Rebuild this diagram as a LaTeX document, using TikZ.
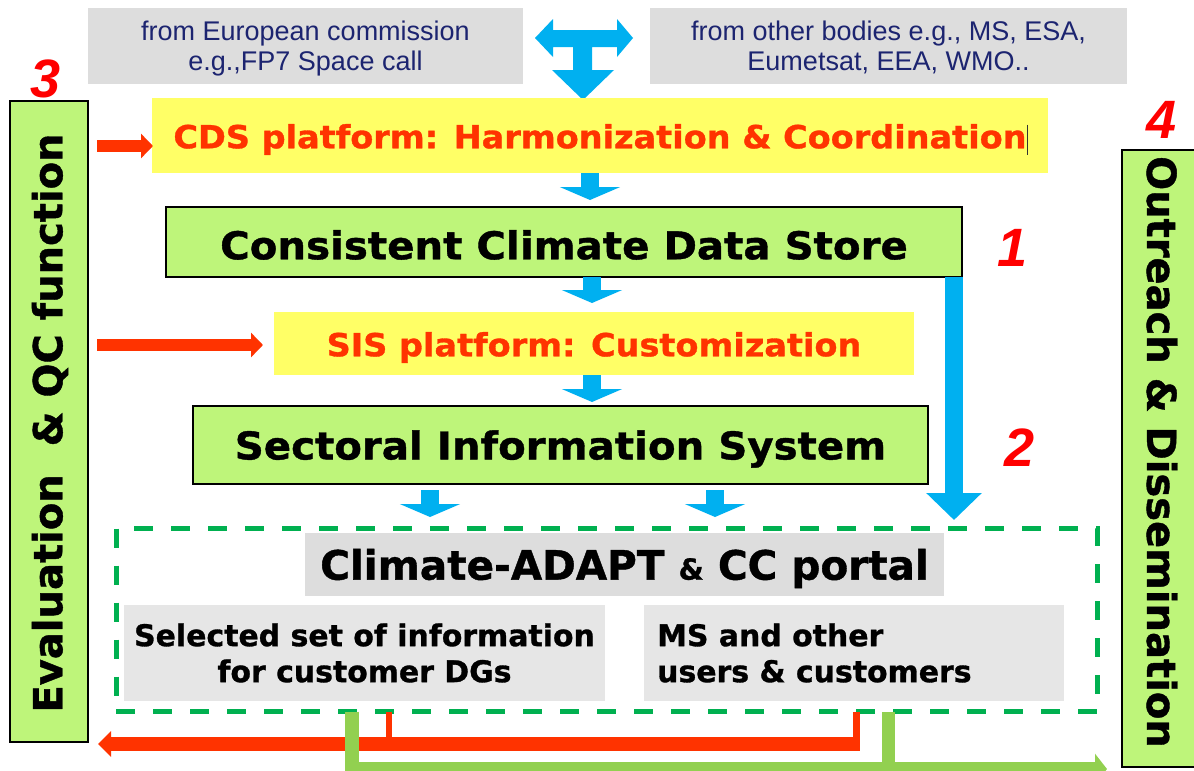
\documentclass[tikz,border=0pt]{standalone}
\usepackage{fontspec}
\usepackage{graphicx}
\usetikzlibrary{arrows.meta,calc}
\setmainfont{DejaVu Sans}
\newfontfamily\verd{DejaVu Sans}[BoldFeatures={FakeBold=1}]
\newfontfamily\arial{Liberation Sans}

\definecolor{bblue}{HTML}{00B0F0}
\definecolor{yel}{HTML}{FFFF66}
\definecolor{lgreen}{HTML}{BEF57A}
\definecolor{topgrey}{HTML}{DDDDDD}
\definecolor{ingrey}{HTML}{E6E6E6}
\definecolor{ored}{HTML}{FF3300}
\definecolor{nred}{HTML}{FF0000}
\definecolor{navy}{HTML}{1C2470}
\definecolor{dgreen}{HTML}{00B050}
\definecolor{bgreen}{HTML}{92D050}

% lower a label inside its node without changing the box that is centred
\newcommand\dropby[2]{\raisebox{-#1}[\height][\depth]{#2}}
% vertical scale and downward shift of a one-line label
\newcommand\tweak[3]{\dropby{#2}{\scalebox{1}[#1]{#3}}}

\begin{document}
\begin{tikzpicture}[x=1pt,y=-1pt,
  box/.style={rectangle, inner sep=0pt, outer sep=0pt, align=center},
  greybox/.style={box, fill=topgrey, text=navy, font=\arial\fontsize{27}{30}\selectfont},
  yelbox/.style={box, fill=yel, text=ored, font=\verd\bfseries\fontsize{33.5}{40}\selectfont},
  grnbox/.style={box, fill=lgreen, draw=black, line width=2pt, font=\verd\bfseries\fontsize{40.3}{48}\selectfont},
  bar/.style={box, fill=lgreen, draw=black, line width=2pt},
  bartext/.style={inner sep=0pt, font=\verd\bfseries\fontsize{40}{48}\selectfont},
  innergrey/.style={box, fill=ingrey, font=\verd\bfseries\fontsize{29.9}{36}\selectfont},
  num/.style={inner sep=0pt, text=nred, font=\arial\bfseries\itshape\fontsize{54}{60}\selectfont},
  blarr/.style={draw=bblue, line width=18pt, -{Triangle[width=60pt,length=13pt]}},
  bigarr/.style={draw=bblue, line width=18pt, -{Triangle[width=54pt,length=27pt]}},
  redarr/.style={draw=ored, line width=12pt, -{Triangle[width=24pt,length=12pt]}},
  portalbox/.style={box, draw=dgreen, line width=5pt, dash pattern=on 19pt off 18pt},
]
\useasboundingbox (0,0) rectangle (1194,771);
\fill[white] (0,0) rectangle (1194,771);
\clip (0,0) rectangle (1194,771);

% funding sources
\node[greybox, minimum width=435pt, minimum height=76pt] (eu) at (305.5,46)
  {\dropby{3.5pt}{\begin{tabular}{@{}c@{}}from European commission\\e.g.,FP7 Space call\end{tabular}}};
\node[greybox, minimum width=477pt, minimum height=76pt] (other) at (888.5,46)
  {\dropby{3.5pt}{\begin{tabular}{@{}c@{}}from other bodies e.g., MS, ESA,\\Eumetsat, EEA, WMO..\end{tabular}}};

% T-shaped arrow joining the sources and feeding the CDS platform
\fill[bblue] (535,38) -- (553,19) -- (553,30) -- (617,30) -- (617,19) -- (633,38)
  -- (617,57) -- (617,47) -- (592,47) -- (592,70) -- (614,70) -- (583,100)
  -- (552,70) -- (573,70) -- (573,47) -- (553,47) -- (553,57) -- cycle;

% main chain
\node[yelbox, minimum width=896pt, minimum height=75pt] (cds) at (600,135.5)
  {\tweak{0.95}{4pt}{CDS platform: Harmonization \& Coordination}};
\draw[line width=1pt, black!80] ($(cds.west)+(875,-11)$) -- ++(0,30);
\node[grnbox, minimum width=796pt, minimum height=70pt] (ccds) at (564,242)
  {\tweak{0.95}{3pt}{Consistent Climate Data Store}};
\node[yelbox, minimum width=640pt, minimum height=63pt] (sisp) at (594,343.5)
  {\tweak{0.95}{4pt}{SIS platform: Customization}};
\node[grnbox, minimum width=735pt, minimum height=78pt] (sis) at (560.5,445)
  {\tweak{0.95}{4pt}{Sectoral Information System}};

% portal
\node[portalbox, minimum width=981pt, minimum height=183.5pt] (portal) at (606.5,619.75) {};
\node[box, fill=topgrey, minimum width=639pt, minimum height=63pt,
  font=\verd\bfseries\fontsize{40.5}{48}\selectfont] (ptitle) at (624.5,564.5)
  {\dropby{4pt}{Climate-ADAPT {\fontsize{29}{30}\selectfont\&} CC portal}};
\node[innergrey, minimum width=481pt, minimum height=96pt] (dgs) at (364.5,653)
  {Selected set of information\\for customer DGs};
\node[innergrey, minimum width=420pt, minimum height=96pt] (users) at (854,653) {};
\node[anchor=west, align=left, inner sep=0pt, font=\verd\bfseries\fontsize{29.9}{36}\selectfont]
  (userstext) at ($(users.west)+(13,0)$) {MS and other\\users \& customers};

% side bars
\node[bar, minimum width=78pt, minimum height=641pt] (evalbar) at (49,421.5) {};
\node[bartext, rotate=90] (evaltext) at (50,423) {Evaluation\ \ \& QC function};
\node[bar, minimum width=90pt, minimum height=617pt] (outbar) at (1167,458.5) {};
\node[bartext, rotate=-90] (outtext) at (1162,452) {Outreach \& Dissemination};

% numbers
\node[num] (n1) at (1013,248) {1};
\node[num] (n2) at (1020,448) {2};
\node[num] (n3) at (46,79) {3};
\node[num] (n4) at (1162,120) {4};

% flow arrows
\draw[blarr, shorten >=7pt] ([xshift=-10pt]cds.south) -- ([xshift=26pt]ccds.north);
\draw[blarr, shorten >=9pt] ([xshift=28pt]ccds.south) -- ([xshift=-2pt]sisp.north);
\draw[blarr, shorten >=4pt] ([xshift=-2pt]sisp.south) -- ([xshift=31.5pt]sis.north);
\draw[blarr, shorten <=6pt, shorten >=11pt] ([xshift=-130.5pt]sis.south) -- ([xshift=-176.5pt]portal.north);
\draw[blarr, shorten <=6pt, shorten >=11pt] ([xshift=154.5pt]sis.south) -- ([xshift=108.5pt]portal.north);
\draw[bigarr, shorten >=8pt] ([xshift=390pt]ccds.south) -- ([xshift=347.5pt]portal.north);

% evaluation feedback arrows
\draw[redarr] ($(evalbar.east |- cds.west)+(9,10.5)$) -- ($(cds.west)+(1,10.5)$);
\draw[redarr] ($(evalbar.east |- sisp.west)+(9,1.5)$) -- ($(sisp.west)+(-11,1.5)$);

% outputs of the portal
\coordinate (redend) at (98,744);
\coordinate (greenend) at (1107,769);
\draw[draw=ored, line width=6pt] ($(portal.south west)+(273,0)$) -- ++(0,30);
\draw[draw=ored, line width=7pt] ($(portal.south west)+(740,0)$) -- ++(0,39.5);
\draw[draw=ored, line width=14pt, -{Triangle[width=25pt,length=13pt]}]
  ($(portal.south west)+(743.5,32.5)$) -- (redend);
\draw[draw=bgreen, line width=14pt] ($(portal.south west)+(236,0)$) -- ++(0,66);
\draw[draw=bgreen, line width=13pt] ($(portal.south west)+(772,0)$) -- ++(0,57.5);
\draw[draw=bgreen, line width=14pt, -{Triangle[width=30pt,length=12pt]}]
  ($(portal.south west)+(229,57.5)$) -- (greenend);
\end{tikzpicture}
\end{document}
